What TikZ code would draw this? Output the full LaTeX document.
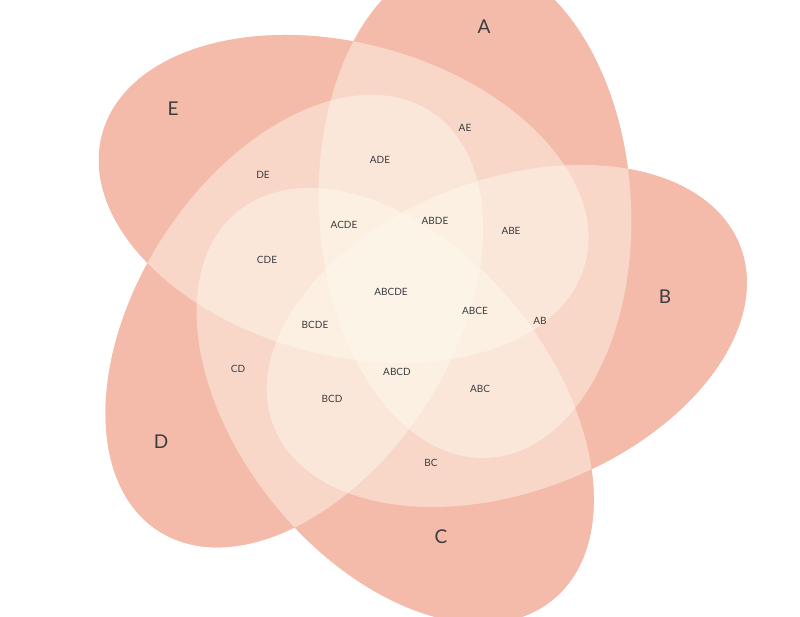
\documentclass[tikz,border=0pt]{standalone}
\usepackage{fontspec}
\setmainfont{Lato}
\definecolor{base}{RGB}{236,134,113}
\definecolor{cream}{RGB}{255,251,240}
\definecolor{txt}{RGB}{60,60,64}
\begin{document}
\begin{tikzpicture}[x=1pt,y=1pt,
  petal/.style={shift={(50:112)},rotate=93},
  lab/.style={text=txt,font=\fontsize{10}{11}\selectfont},
  big/.style={text=txt,font=\fontsize{19}{21}\selectfont}]
\useasboundingbox (0,0) rectangle (800,617);
\coordinate (O) at (403,323);
\foreach \i in {0,...,4}{
  \begin{scope}[shift={(O)},rotate=-72*\i]
    \fill[base,petal] (0,0) ellipse [x radius=250pt, y radius=156pt];
  \end{scope}}
\foreach \i in {0,...,4}{
  \begin{scope}[shift={(O)},rotate=-72*\i]
    \fill[cream,fill opacity=0.45,petal] (0,0) ellipse [x radius=250pt, y radius=156pt];
  \end{scope}}
\foreach \t/\x/\y in {A/484/27,B/665/297,C/441/537,D/161/442,E/173/109}
  \node[big] (n\t) at (\x,617-\y) {\t};
\foreach \t/\x/\y in {AE/465/128,ADE/380/160,DE/263/175,ACDE/344/225,ABDE/435/221,ABE/511/231,CDE/267/260,ABCDE/391/292,ABCE/475/311,AB/540/321,BCDE/315/325,CD/238/369,ABCD/397/372,ABC/480/389,BCD/332/399,BC/431/463}
  \node[lab] (n\t) at (\x,617-\y) {\t};
\end{tikzpicture}
\end{document}
